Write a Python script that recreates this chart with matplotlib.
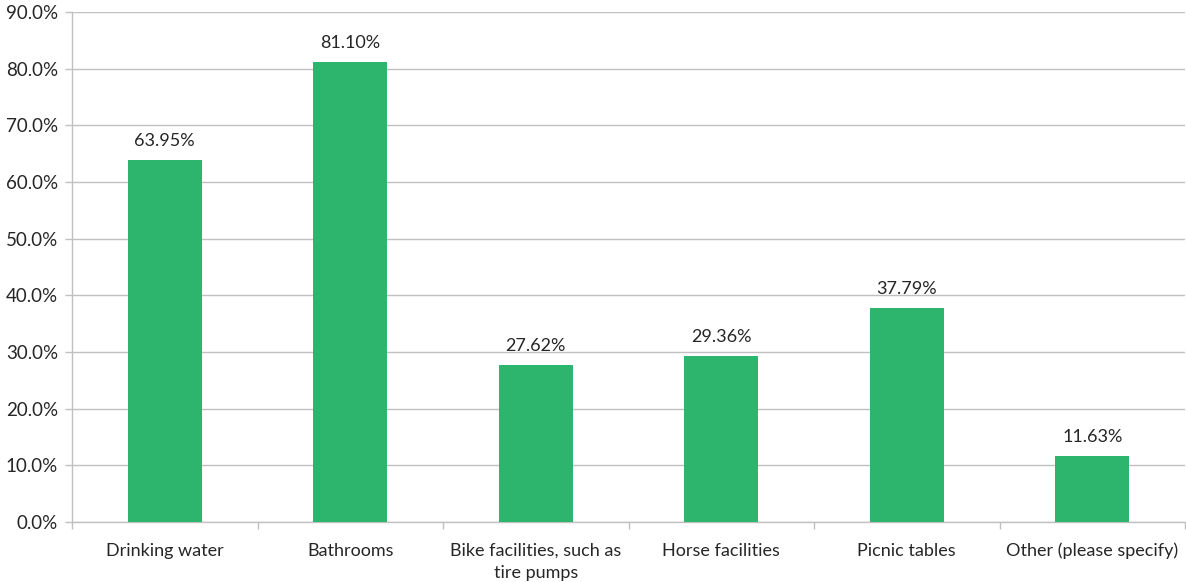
import numpy as np
import matplotlib.pyplot as plt
from matplotlib.ticker import FixedLocator, PercentFormatter

plt.rcParams['font.family'] = ['Lato', 'DejaVu Sans']

# Amenities wanted along the trail
categories = ['Drinking water', 'Bathrooms', 'Bike facilities, such as\ntire pumps',
              'Horse facilities', 'Picnic tables', 'Other (please specify)']
percents = [63.95, 81.10, 27.62, 29.36, 37.79, 11.63]

BAR_GREEN = '#2db56e'
GRID_GREY = '#c0c0c0'
TEXT_DARK = '#262626'
FS = 13

fig = plt.figure(figsize=(11.86, 5.82), dpi=100)
ax = fig.add_axes([72 / 1186, 60 / 582, 1 - 72 / 1186 - 1 / 1186, 510 / 582])

x = np.arange(len(categories))
ax.bar(x, percents, width=0.4, color=BAR_GREEN, zorder=3)

for xi, val in zip(x, percents):
    ax.annotate(f'{val:.2f}%', (xi, val), xytext=(0, 8), textcoords='offset points',
                ha='center', va='bottom', fontsize=FS, color=TEXT_DARK)

ax.set_xlim(-0.5, len(categories) - 0.5)
ax.set_ylim(0, 90)
ax.set_yticks(np.arange(0, 91, 10))
ax.yaxis.set_major_formatter(PercentFormatter(decimals=1))
ax.grid(axis='y', color=GRID_GREY, linewidth=1, zorder=0)

# category names centred under bars, ticks on the category boundaries
ax.set_xticks(x)
ax.set_xticklabels(categories, fontsize=FS, color=TEXT_DARK, linespacing=1.5)
ax.tick_params(axis='x', which='major', length=0, pad=15)
ax.xaxis.set_minor_locator(FixedLocator(np.arange(-0.5, len(categories), 1.0)))
ax.tick_params(axis='x', which='minor', length=5, color=GRID_GREY, width=1)
ax.tick_params(axis='y', length=5, color=GRID_GREY, width=1, labelsize=13.5,
               labelcolor=TEXT_DARK, pad=5)

for side in ['top', 'right']:
    ax.spines[side].set_visible(False)
for side in ['left', 'bottom']:
    ax.spines[side].set_color(GRID_GREY)
    ax.spines[side].set_linewidth(1)

fig.savefig('out.png', dpi=100)
